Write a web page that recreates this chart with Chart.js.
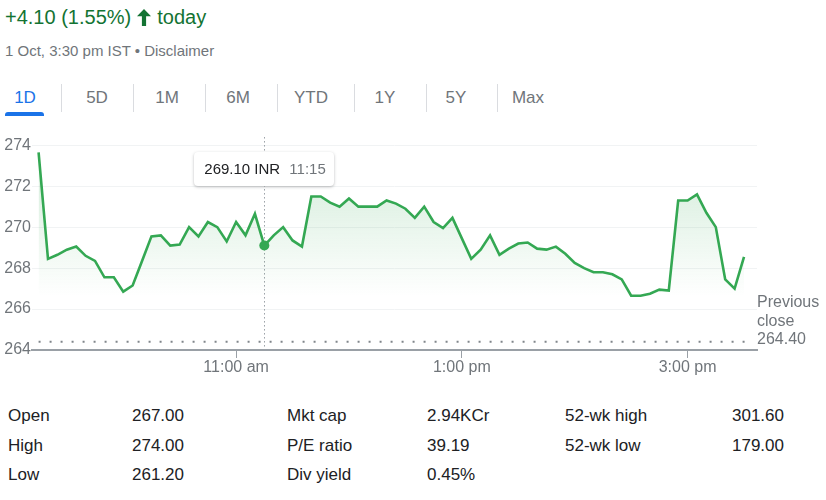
<!DOCTYPE html>
<html>
<head>
<meta charset="utf-8">
<script src="https://cdn.jsdelivr.net/npm/chart.js@4"></script>
<style>
  body { margin: 0; background: #fff; font-family: Arial, "Liberation Sans", sans-serif; }
  #page { position: relative; width: 826px; height: 500px; overflow: hidden; }
  .t { position: absolute; white-space: nowrap; line-height: 1.2; }
  #chg { left: 5px; top: 5px; font-size: 20px; color: #137333; }
  #chg svg { vertical-align: -2px; margin: 0 1px 0 0; }
  #when { left: 5px; top: 42px; font-size: 15px; color: #70757a; }
  .tab { top: 88px; font-size: 17px; color: #70757a; transform: translateX(-50%); }
  .tab.on { color: #1a73e8; }
  .sep { position: absolute; top: 84px; width: 1px; height: 28px; background: #dadce0; }
  #bar { position: absolute; left: 5px; top: 112px; width: 39px; height: 4px; background: #1a73e8; border-radius: 3px 3px 0 0; }
  #cv { position: absolute; left: 0; top: 130px; }
  #tip { position: absolute; top: 152px; width: 140px; height: 34px; background: #fff; border-radius: 4px;
         box-shadow: 0 1px 3px rgba(60,64,67,0.35); font-size: 15px; line-height: 34px; white-space: nowrap; }
  #tip .p { position: absolute; left: 10px; color: #202124; }
  #tip .h { position: absolute; left: 95px; color: #70757a; }
  #prev { left: 757px; top: 293px; font-size: 16px; line-height: 18.5px; color: #70757a; }
  .st { font-size: 17px; color: #202124; }
</style>
</head>
<body>
<div id="page">
  <div id="chg" class="t"></div>
  <div id="when" class="t"></div>
  <div id="tabs"></div>
  <div id="bar"></div>
  <canvas id="cv" width="826" height="250"></canvas>
  <div id="tip"><span class="p"></span><span class="h"></span></div>
  <div id="prev" class="t"></div>
  <div id="stats"></div>
</div>
<script>
// ---- data ----
const changeText = '+4.10 (1.55%)';
const dateText = '1 Oct, 3:30 pm IST \u2022 Disclaimer';
const tabNames = ['1D', '5D', '1M', '6M', 'YTD', '1Y', '5Y', 'Max'];

// 5 minute closes from 09:15 to 15:30
const openMinute = 9 * 60 + 15;
const stepMinutes = 5;
const prices = [
  273.65, 268.45, 268.65, 268.90, 269.05, 268.60, 268.35, 267.55, 267.55, 266.85,
  267.15, 268.35, 269.55, 269.60, 269.10, 269.15, 270.00, 269.55, 270.25, 270.00,
  269.30, 270.25, 269.60, 270.65, 269.10, 269.60, 270.00, 269.35, 269.05, 271.50,
  271.50, 271.20, 271.00, 271.40, 271.00, 271.00, 271.00, 271.30, 271.15, 270.90,
  270.45, 271.00, 270.25, 269.95, 270.45, 269.45, 268.45, 268.90, 269.60, 268.65,
  268.95, 269.20, 269.25, 268.95, 268.90, 269.05, 268.70, 268.25, 268.00, 267.80,
  267.80, 267.70, 267.45, 266.65, 266.65, 266.75, 266.95, 266.90, 271.30, 271.30,
  271.60, 270.70, 270.00, 267.45, 267.00, 268.55
];
const prevClose = 264.40;
const hoverIndex = 24;   // 11:15

const yTicks = [264, 266, 268, 270, 272, 274];
const xTickMinutes = [105, 225, 345];   // minutes after 09:15
const xTickLabels = ['11:00 am', '1:00 pm', '3:00 pm'];

const statLabels1 = ['Open', 'High', 'Low'];
const statValues1 = ['267.00', '274.00', '261.20'];
const statLabels2 = ['Mkt cap', 'P/E ratio', 'Div yield'];
const statValues2 = ['2.94KCr', '39.19', '0.45%'];
const statLabels3 = ['52-wk high', '52-wk low'];
const statValues3 = ['301.60', '179.00'];

// ---- header / tabs ----
document.querySelector('#chg').innerHTML = changeText +
  ' <svg width="14" height="17" viewBox="0 0 14 17"><path fill="#137333" d="M7 0L14 7.2H9.1V17H4.9V7.2H0Z"/></svg> today';
document.querySelector('#when').textContent = dateText;

const tabs = document.querySelector('#tabs');
const tabCenters = [25, 97, 167, 238, 311, 385, 456, 528];
const sepX = [61, 133, 205, 277, 354, 426, 497];
tabNames.forEach((name, i) => {
  const s = document.createElement('div');
  s.className = 't tab' + (i === 0 ? ' on' : '');
  s.style.left = tabCenters[i] + 'px';
  s.textContent = name;
  tabs.appendChild(s);
});
sepX.forEach(x => {
  const d = document.createElement('div');
  d.className = 'sep';
  d.style.left = x + 'px';
  tabs.appendChild(d);
});

// ---- stats ----
const stats = document.querySelector('#stats');
function addCol(list, x){
  list.forEach((txt, r) => {
    const d = document.createElement('div');
    d.className = 't st';
    d.style.left = x + 'px';
    d.style.top = (406 + r * 29.5) + 'px';
    d.textContent = txt;
    stats.appendChild(d);
  });
}
addCol(statLabels1, 8);  addCol(statValues1, 132);
addCol(statLabels2, 287); addCol(statValues2, 427);
addCol(statLabels3, 565); addCol(statValues3, 732);

document.querySelector('#prev').innerHTML = 'Previous<br>close<br>' + prevClose.toFixed(2);

// ---- chart ----
function timeLabel(idx){
  const m = openMinute + idx * stepMinutes;
  return Math.floor(m / 60) + ':' + String(m % 60).padStart(2, '0');
}

const priceData = prices.map((p, i) => ({ x: i * stepMinutes, y: p }));

const crosshair = {
  id: 'crosshair',
  beforeDatasetsDraw(chart){
    const c = chart.ctx;
    const x = chart.scales.x.getPixelForValue(hoverIndex * stepMinutes);
    c.save();
    c.strokeStyle = '#9aa0a6';
    c.lineWidth = 1;
    c.setLineDash([1.5, 2.5]);
    c.beginPath();
    c.moveTo(Math.round(x) + 0.5, chart.scales.y.getPixelForValue(274.4));
    c.lineTo(Math.round(x) + 0.5, chart.chartArea.bottom);
    c.stroke();
    c.restore();
  },
  afterRender(chart){
    const x = chart.scales.x.getPixelForValue(hoverIndex * stepMinutes);
    const tip = document.querySelector('#tip');
    tip.style.left = (x - 70) + 'px';
    tip.querySelector('.p').textContent = prices[hoverIndex].toFixed(2) + ' INR';
    tip.querySelector('.h').textContent = timeLabel(hoverIndex);
  }
};

const ctx = document.querySelector('#cv').getContext('2d');
new Chart(ctx, {
  type: 'line',
  data: {
    datasets: [{
      data: priceData,
      borderColor: '#34a853',
      borderWidth: 2.6,
      tension: 0,
      fill: 'start',
      backgroundColor: (c) => {
        const ch = c.chart;
        if (!ch.chartArea) return 'rgba(52,168,83,0.1)';
        const ys = ch.scales.y;
        const g = ch.ctx.createLinearGradient(0, ys.getPixelForValue(272), 0, ys.getPixelForValue(266.6));
        g.addColorStop(0, 'rgba(52,168,83,0.17)');
        g.addColorStop(1, 'rgba(52,168,83,0)');
        return g;
      },
      pointRadius: (c) => c.dataIndex === hoverIndex ? 5 : 0,
      pointBackgroundColor: '#34a853',
      pointBorderWidth: 0
    }, {
      data: [{ x: 0, y: prevClose }, { x: 377, y: prevClose }],
      borderColor: '#80868b',
      borderWidth: 2,
      borderDash: [2, 9],
      pointRadius: 0,
      fill: false
    }]
  },
  options: {
    responsive: false,
    animation: false,
    layout: { padding: { top: 5, right: 69, left: 0, bottom: 0 } },
    plugins: { legend: { display: false }, tooltip: { enabled: false } },
    scales: {
      x: {
        type: 'linear',
        min: -3.5,
        max: 381.9,
        border: { display: true, color: '#9aa0a6', width: 2 },
        grid: { display: true, drawOnChartArea: false, drawTicks: true, tickLength: 8, color: '#9aa0a6', lineWidth: 1 },
        ticks: {
          color: '#70757a', font: { family: 'Arial', size: 16 }, padding: 0, maxRotation: 0, autoSkip: false,
          callback: (v) => xTickLabels[xTickMinutes.indexOf(v)]
        },
        afterBuildTicks: (s) => { s.ticks = xTickMinutes.map(v => ({ value: v })); },
        afterFit: (s) => { s.height = 30; s.paddingLeft = 0; s.paddingRight = 0; }
      },
      y: {
        min: 264,
        max: 274.5,
        border: { display: false },
        grid: { color: '#f1f3f4', drawTicks: false, lineWidth: 1 },
        ticks: { color: '#70757a', font: { family: 'Arial', size: 16 }, padding: 1 },
        afterBuildTicks: (s) => { s.ticks = yTicks.map(v => ({ value: v })); },
        afterFit: (s) => { s.width = 32; s.paddingTop = 0; s.paddingBottom = 0; }
      }
    }
  },
  plugins: [crosshair]
});
</script>
</body>
</html>
